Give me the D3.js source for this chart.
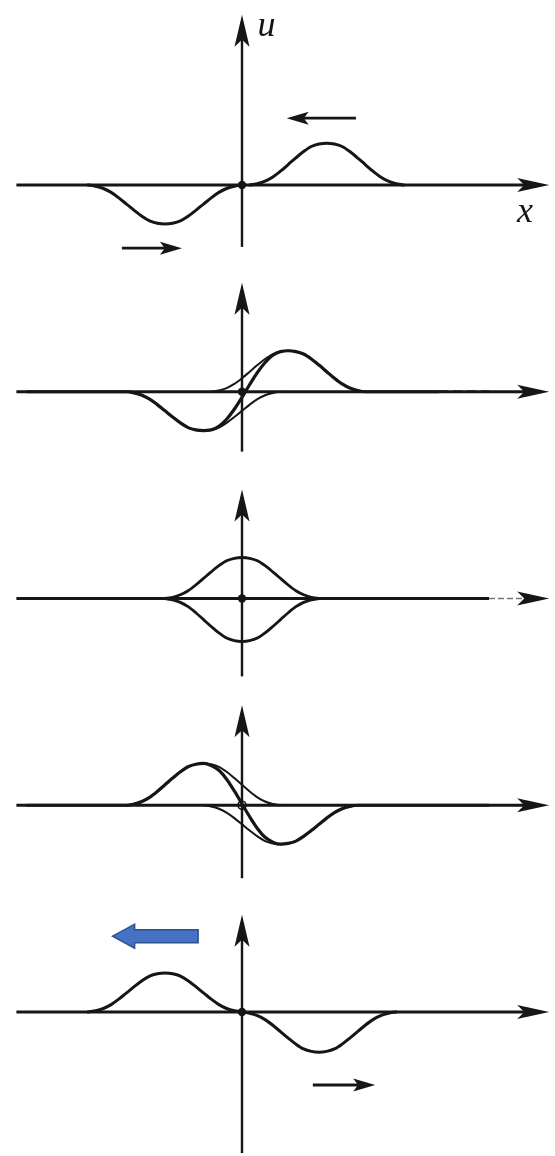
<!DOCTYPE html>
<html>
<head>
<meta charset="utf-8">
<script src="https://cdn.jsdelivr.net/npm/d3@7"></script>
<style>
  html, body { margin: 0; padding: 0; background: #fff; }
  svg { display: block; }
  .lbl { font-family: "Liberation Serif", "DejaVu Serif", serif; font-style: italic; }
</style>
</head>
<body>
<div id="chart"></div>
<script>
// ---------- data ----------
// pulse profile: offset from pulse centre (in pulse half-widths) and relative height
const shapeOffsets = [-1.0,-0.9,-0.8,-0.7,-0.6,-0.5,-0.4,-0.3,-0.2,-0.1,0,0.1,0.2,0.3,0.4,0.5,0.6,0.7,0.8,0.9,1.0];
const shapeValues  = [0,0.03,0.09,0.19,0.33,0.49,0.65,0.80,0.92,0.98,1.0,0.98,0.92,0.80,0.65,0.49,0.33,0.19,0.09,0.03,0];

// five snapshots in time (top to bottom)
const panels     = ["t1","t2","t3","t4","t5"];
const posCenters = [1.1, 0.6, 0.0, -0.5, -1.0];   // pulse moving left
const posAmps    = [1.02, 1.0, 1.0, 1.02, 0.95];
const negCenters = [-1.0, -0.5, 0.0, 0.5, 1.0];   // pulse moving right
const negAmps    = [-0.95, -0.95, -1.05, -0.95, -0.98];

// axis extents (x in half-widths, u in amplitude units)
const xAxisFrom = -2.93, xAxisTo = 3.99;
const uAxisTop    = [4.15, 2.66, 2.66, 2.44, 2.37];
const uAxisBottom = [-1.51, -1.46, -1.90, -1.78, -3.44];

// direction arrows: [panel, xFrom, xTo, u, pointing]
const dirArrows = [
  ["t1", 1.48, 0.58, 1.63, "left"],
  ["t1", -1.56, -0.78, -1.54, "right"],
  ["t5", 0.92, 1.73, -1.78, "right"]
];
const blueArrow = ["t5", -0.57, -1.68, 1.85];

const axisLabels = [
  ["t1", "u", 0.2, 3.64],
  ["t1", "x", 3.57, -0.9]
];

// ---------- layout ----------
const W = 555, H = 1156;
const x = d3.scaleLinear().domain([-3, 4]).range([11, 550]);
const py = d3.scalePoint().domain(panels).range([185, 1012]);
const u = d3.scaleLinear().domain([-1, 1]).range([41, -41]);
const ink = "#141414";

const svg = d3.select("#chart").append("svg").attr("width", W).attr("height", H)
  .style("background", "#fff");
const defs = svg.append("defs");
defs.append("filter").attr("id", "soft").attr("x", "-5%").attr("y", "-5%")
  .attr("width", "110%").attr("height", "110%")
  .append("feGaussianBlur").attr("stdDeviation", 0.6);

const root = svg.append("g").attr("filter", "url(#soft)");

// superposition on the 0.1 grid (exact sample addition, centres are on the grid)
function pulseSamples(c, a) {
  return shapeOffsets.map((o, i) => ({ k: Math.round((c + o) * 10), v: a * shapeValues[i] }));
}
function sumSamples(i) {
  const m = new Map();
  for (let k = Math.round(xAxisFrom * 10) + 1; k <= 38; k++) m.set(k, 0);
  [pulseSamples(posCenters[i], posAmps[i]), pulseSamples(negCenters[i], negAmps[i])]
    .forEach(arr => arr.forEach(p => m.set(p.k, (m.get(p.k) || 0) + p.v)));
  return Array.from(m, ([k, v]) => ({ k, v })).sort((a, b) => a.k - b.k);
}

const line = d3.line().x(d => x(d.k / 10)).y(d => u(d.v)).curve(d3.curveMonotoneX);

function arrowHead(g, tipX, tipY, dir, len, half) {
  let pts;
  if (dir === "right") pts = [[tipX, tipY], [tipX - len, tipY - half], [tipX - len * 0.78, tipY], [tipX - len, tipY + half]];
  if (dir === "left")  pts = [[tipX, tipY], [tipX + len, tipY - half], [tipX + len * 0.78, tipY], [tipX + len, tipY + half]];
  if (dir === "up")    pts = [[tipX, tipY], [tipX - half, tipY + len], [tipX, tipY + len * 0.78], [tipX + half, tipY + len]];
  g.append("path").attr("d", "M" + pts.map(p => p.join(",")).join("L") + "Z").attr("fill", ink);
}

panels.forEach((p, i) => {
  const g = root.append("g").attr("transform", `translate(0,${py(p)})`);

  // x axis
  const x0 = x(xAxisFrom), xt = x(xAxisTo);
  if (i === 1) {
    g.append("line").attr("x1", x0).attr("x2", 439).attr("y1", 0).attr("y2", 0)
      .attr("stroke", ink).attr("stroke-width", 2.8);
    g.append("line").attr("x1", 439).attr("x2", 489).attr("y1", 0).attr("y2", 0)
      .attr("stroke", ink).attr("stroke-width", 2.6).attr("stroke-dasharray", "9,5");
    arrowHead(g, xt, 0, "right", 32, 7);
  } else if (i === 2 || i === 3) {
    g.append("line").attr("x1", x0).attr("x2", 489).attr("y1", 0).attr("y2", 0)
      .attr("stroke", ink).attr("stroke-width", 2.9);
    g.append("line").attr("x1", 489).attr("x2", xt - 20).attr("y1", 0).attr("y2", 0)
      .attr("stroke", "#777").attr("stroke-width", 1.3).attr("stroke-dasharray", "6,3");
    arrowHead(g, xt, 0, "right", 32, 7);
  } else {
    g.append("line").attr("x1", x0).attr("x2", xt - 20).attr("y1", 0).attr("y2", 0)
      .attr("stroke", ink).attr("stroke-width", 2.8);
    arrowHead(g, xt, 0, "right", 32, 7);
  }

  // u axis
  g.append("line").attr("x1", x(0)).attr("x2", x(0))
    .attr("y1", u(uAxisTop[i]) + 20).attr("y2", u(uAxisBottom[i]))
    .attr("stroke", ink).attr("stroke-width", 2.4);
  arrowHead(g, x(0), u(uAxisTop[i]), "up", 32, 7.5);

  // individual pulses
  const thin = (i === 2) ? 2.8 : (i === 0 || i === 4 ? 3 : 2);
  [[posCenters[i], posAmps[i]], [negCenters[i], negAmps[i]]].forEach(([c, a]) => {
    g.append("path").datum(pulseSamples(c, a)).attr("d", line)
      .attr("fill", "none").attr("stroke", ink).attr("stroke-width", thin)
      .attr("stroke-linejoin", "round").attr("stroke-linecap", "round");
  });

  // superposition
  if (i === 1 || i === 3) {
    g.append("path").datum(sumSamples(i)).attr("d", line)
      .attr("fill", "none").attr("stroke", ink).attr("stroke-width", 3.2)
      .attr("stroke-linejoin", "round");
  }

  // origin dot
  if (i === 3) {
    g.append("circle").attr("cx", x(0)).attr("cy", 0).attr("r", 4)
      .attr("fill", "none").attr("stroke", ink).attr("stroke-width", 1.6);
  } else {
    g.append("circle").attr("cx", x(0)).attr("cy", 0).attr("r", 4.2).attr("fill", ink);
  }

  // direction arrows
  dirArrows.filter(a => a[0] === p).forEach(([, xf, xto, uu, dir]) => {
    const x1 = x(xf), x2 = x(xto), yy = u(uu);
    const lenH = 22;
    g.append("line").attr("x1", x1).attr("x2", dir === "left" ? x2 + lenH * 0.7 : x2 - lenH * 0.7)
      .attr("y1", yy).attr("y2", yy).attr("stroke", ink).attr("stroke-width", 2.8);
    arrowHead(g, x2, yy, dir, lenH, 6.5);
  });

  if (blueArrow[0] === p) {
    const xr = x(blueArrow[1]), xl = x(blueArrow[2]), yy = u(blueArrow[3]);
    const head = 22, half = 12, sh = 6.5;
    const d = `M${xl},${yy} L${xl + head},${yy - half} L${xl + head},${yy - sh} L${xr},${yy - sh} L${xr},${yy + sh} L${xl + head},${yy + sh} L${xl + head},${yy + half} Z`;
    g.append("path").attr("d", d).attr("fill", "#4472C4").attr("stroke", "#2F528F").attr("stroke-width", 1.5);
  }

  axisLabels.filter(a => a[0] === p).forEach(([, t, xv, uv]) => {
    g.append("text").attr("class", "lbl").attr("x", x(xv)).attr("y", u(uv)).text(t)
      .attr("font-size", 36).attr("fill", ink);
  });
});
</script>
</body>
</html>
